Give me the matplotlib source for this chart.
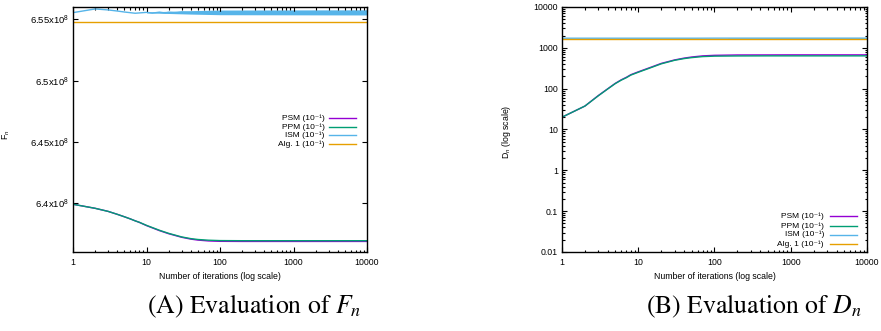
import numpy as np
import matplotlib.pyplot as plt
from matplotlib.ticker import FixedLocator, FuncFormatter, LogLocator, NullFormatter

plt.rcParams["font.family"] = ["Liberation Sans", "DejaVu Sans"]
plt.rcParams["mathtext.fontset"] = "custom"
plt.rcParams["mathtext.rm"] = "Liberation Sans"
plt.rcParams["mathtext.it"] = "Liberation Sans:italic"

# ---- data ----
names = ["PSM (10⁻¹)", "PPM (10⁻¹)", "ISM (10⁻¹)", "Alg. 1 (10⁻¹)"]
colors = ["#9400d3", "#009e73", "#56b4e9", "#e69f00"]

iters = [1, 2, 3, 4, 5, 6, 7, 8, 10, 15, 20, 30, 40, 50, 70, 100,
         200, 500, 1000, 2000, 5000, 10000]

# F_n in units of 1e8
f_psm = [6.3992, 6.3959, 6.3934, 6.3910, 6.3890, 6.3873, 6.3857, 6.3844, 6.3818,
         6.3777, 6.3752, 6.3723, 6.3708, 6.3700, 6.3693, 6.3690, 6.3689, 6.3689,
         6.3689, 6.3689, 6.3689, 6.3689]
f_ppm = [6.3992, 6.3959, 6.3934, 6.3910, 6.3890, 6.3873, 6.3857, 6.3845, 6.3820,
         6.3780, 6.3755, 6.3726, 6.3712, 6.3705, 6.3699, 6.3696, 6.3695, 6.3695,
         6.3695, 6.3695, 6.3695, 6.3695]
ism_iters = [1, 2, 3, 4, 5, 7, 10, 12, 15, 18, 20, 25, 30, 40, 60, 100, 300, 1000, 10000]
f_ism = [6.5554, 6.5584, 6.5576, 6.5567, 6.5559, 6.5549, 6.5556, 6.5550, 6.5558,
         6.5551, 6.5557, 6.5552, 6.5559, 6.5554, 6.5556, 6.5555, 6.5556, 6.5556, 6.5556]
ism_band_iters = [10, 40, 100, 10000]
f_ism_lo = [6.5552, 6.5542, 6.5537, 6.5535]
f_ism_hi = [6.5560, 6.5570, 6.5575, 6.5577]
f_alg1 = 6.5476

# D_n
d_psm = [20, 37.5, 68, 100, 135, 165, 190, 220, 258, 340, 415, 505, 560, 595, 635,
         655, 668, 670, 672, 672, 672, 672]
d_ppm = [20, 37.5, 67, 99, 133, 162, 186, 215, 252, 332, 405, 495, 545, 575, 610,
         625, 632, 635, 635, 635, 635, 635]
d_ism = [1720, 1720, 1720, 1720, 1720, 1720, 1720, 1720, 1720, 1720, 1720, 1720,
         1720, 1720, 1720, 1725, 1725, 1725, 1725]
d_ism_band_iters = [150, 1000, 10000]
d_ism_lo = [1700, 1690, 1690]
d_ism_hi = [1740, 1780, 1780]
d_alg1 = 1640

x_ticks = [1, 10, 100, 1000, 10000]
f_ticks = [6.4e8, 6.45e8, 6.5e8, 6.55e8]
d_ticks = [0.01, 0.1, 1, 10, 100, 1000, 10000]

fs = 6.3
lw = 1.0


def style_axis(ax):
    ax.set_xscale("log")
    ax.set_xlim(1, 10000)
    ax.xaxis.set_major_locator(FixedLocator(x_ticks))
    ax.xaxis.set_minor_locator(LogLocator(base=10, subs=np.arange(2, 10)))
    ax.xaxis.set_major_formatter(FuncFormatter(lambda v, p: "%g" % v))
    ax.xaxis.set_minor_formatter(NullFormatter())
    ax.tick_params(which="both", direction="in", top=True, right=True,
                   labelsize=fs, width=0.8, colors="black")
    ax.tick_params(which="major", length=3.5)
    ax.tick_params(which="minor", length=1.8)
    ax.tick_params(axis="x", pad=4)
    ax.tick_params(axis="y", pad=3)
    for s in ax.spines.values():
        s.set_linewidth(1.0)
    ax.set_xlabel("Number of iterations (log scale)", fontsize=fs)
    ax.xaxis.label.set_va("center")
    ax.xaxis.set_label_coords(0.5, -0.098)


def draw_legend(ax, tx, lx0, lx1, ys):
    for name, c, y in zip(names, colors, ys):
        ax.text(tx, y, name, transform=ax.transAxes, ha="right", va="center",
                fontsize=fs - 0.3)
        ax.plot([lx0, lx1], [y, y], transform=ax.transAxes, color=c, lw=lw)


fig = plt.figure(figsize=(8.81, 3.31), dpi=100)

# ---- (A) F_n ----
ax1 = fig.add_axes([0.0829, 0.2387, 0.3337, 0.7402])
f_psm_v = np.array(f_psm) * 1e8
f_ppm_v = np.array(f_ppm) * 1e8
ax1.plot(iters, f_psm_v, color=colors[0], lw=lw)
ax1.plot(iters, f_ppm_v, color=colors[1], lw=lw)
ax1.fill_between(ism_band_iters, np.array(f_ism_lo) * 1e8, np.array(f_ism_hi) * 1e8,
                 color=colors[2], lw=0)
ax1.plot(ism_iters, np.array(f_ism) * 1e8, color=colors[2], lw=lw)
ax1.axhline(f_alg1 * 1e8, color=colors[3], lw=lw)
style_axis(ax1)
ax1.set_ylim(6.3603e8, 6.5600e8)
ax1.yaxis.set_major_locator(FixedLocator(f_ticks))
ax1.yaxis.set_minor_locator(FixedLocator([]))
ax1.yaxis.set_major_formatter(
    FuncFormatter(lambda v, p: "%gx10$^{8}$" % round(v / 1e8, 4)))
ax1.tick_params(axis="y", labelsize=6.8)
ax1.set_ylabel("F$_n$", fontsize=fs)
ax1.yaxis.set_label_coords(-0.207, 0.478)
draw_legend(ax1, 0.855, 0.872, 0.963, [0.546, 0.511, 0.478, 0.441])

# ---- (B) D_n ----
ax2 = fig.add_axes([0.6379, 0.2387, 0.3462, 0.7402])
ax2.plot(iters, d_psm, color=colors[0], lw=lw)
ax2.plot(iters, d_ppm, color=colors[1], lw=lw)
ax2.fill_between(d_ism_band_iters, d_ism_lo, d_ism_hi, color=colors[2], lw=0,
                 alpha=0.6)
ax2.plot(ism_iters, d_ism, color=colors[2], lw=lw)
ax2.axhline(d_alg1, color=colors[3], lw=lw)
style_axis(ax2)
ax2.set_yscale("log")
ax2.set_ylim(0.01, 10000)
ax2.yaxis.set_major_locator(FixedLocator(d_ticks))
ax2.yaxis.set_minor_locator(LogLocator(base=10, subs=np.arange(2, 10), numticks=20))
ax2.yaxis.set_major_formatter(FuncFormatter(lambda v, p: "%g" % v))
ax2.yaxis.set_minor_formatter(NullFormatter())
ax2.set_ylabel("D$_n$ (log scale)", fontsize=fs)
ax2.yaxis.set_label_coords(-0.16, 0.49)
draw_legend(ax2, 0.859, 0.878, 0.966, [0.145, 0.106, 0.071, 0.031])

# ---- captions ----
cap = dict(fontsize=18.5, family="STIXGeneral", ha="center", va="center",
           math_fontfamily="stix")
fig.text(0.289, 0.075, "(A) Evaluation of $F_n$", **cap)
fig.text(0.856, 0.075, "(B) Evaluation of $D_n$", **cap)

fig.savefig("out.png", dpi=100)
